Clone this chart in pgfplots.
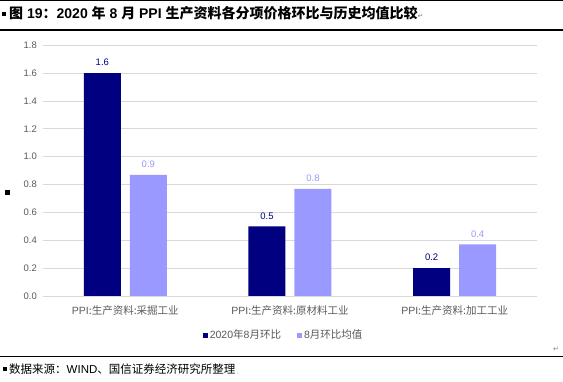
\documentclass[border=0pt]{standalone}
\usepackage{fontspec}
\setmainfont{Liberation Sans}
\newfontfamily\cjk{Noto Sans CJK SC}
\newfontfamily\sym{DejaVu Sans}
\usepackage{pgfplots}
\pgfplotsset{compat=1.18}
\definecolor{navy}{RGB}{0,0,128}
\definecolor{lav}{RGB}{153,153,255}
\definecolor{tickc}{RGB}{89,89,89}
\definecolor{gridc}{RGB}{217,217,217}
\begin{document}
\begin{tikzpicture}[x=1pt,y=1pt]
\path[use as bounding box] (0,0) rectangle (563,382);
\draw[line width=0.8pt] (0,381.4) -- (563,381.4);
% title
\fill (2,366) rectangle (6,370);
\node[anchor=west,inner sep=0] at (9,368.5) {\fontsize{14}{16}\selectfont\bfseries {\cjk\bfseries 图} 19{\cjk\bfseries ：}2020 {\cjk\bfseries 年} 8 {\cjk\bfseries 月} PPI {\cjk\bfseries 生产资料各分项价格环比与历史均值比较}{\sym\fontsize{7}{8}\selectfont\mdseries\color{gray}↵}};
\draw[line width=1.4pt] (0,352) -- (563,352);
% stray marker
\fill (5,187) rectangle (10,192);
% bottom
\draw[line width=1pt] (0,25) -- (563,25);
\node[anchor=center,inner sep=0] at (556,33) {\sym\fontsize{7}{8}\selectfont\color{gray}↵};
\fill (3,11) rectangle (7,15);
\node[anchor=west,inner sep=0] at (9,13) {\fontsize{11.5}{13}\selectfont{\cjk 数据来源：}WIND{\cjk 、国信证券经济研究所整理}\,\raisebox{-1pt}{\tiny.}};
\coordinate (orig) at (125.33,86);
\begin{axis}[
  at={(orig)}, anchor=origin, scale only axis,
  width=494pt, height=250.7pt,
  xmin=-0.5, xmax=2.5, ymin=0, ymax=1.8,
  ybar=9pt, bar width=37pt,
  ytick={0,0.2,0.4,0.6,0.8,1.0,1.2,1.4,1.6,1.8},
  xtick={0,1,2},
  xticklabels={PPI{\cjk :生产资料:采掘工业},PPI{\cjk :生产资料:原材料工业},PPI{\cjk :生产资料:加工工业}},
  ymajorgrids, grid style={gridc, line width=0.9pt},
  axis line style={draw=none},
  major tick length=0,
  /pgf/number format/assume math mode=true,
  yticklabel style={font=\fontsize{9.5}{11}\selectfont, color=tickc, inner sep=0, xshift=-6pt,
    /pgf/number format/.cd, fixed, fixed zerofill, precision=1},
  xticklabel style={font=\fontsize{10.5}{12}\selectfont, color=tickc, inner sep=0, yshift=-9pt},
  nodes near coords={\pgfmathprintnumber[fixed,fixed zerofill,precision=1]{\pgfplotspointmeta}},
  every node near coord/.append style={font=\fontsize{9.5}{11}\selectfont, inner sep=0, anchor=south, yshift=7pt},
  legend style={at={(0.487,-0.156)}, anchor=center, draw=none, font=\fontsize{10.5}{12}\selectfont, text=tickc,
    legend columns=2, /tikz/every even column/.append style={column sep=14pt}},
  legend image code/.code={\fill[#1] (0pt,-2.5pt) rectangle (5pt,2.5pt);},
]
\addplot[fill=navy, draw=none, every node near coord/.append style={text=navy}] coordinates {(0,1.6) (1,0.5) (2,0.2)};
\addplot[fill=lav, draw=none, every node near coord/.append style={text=lav}] coordinates {(0,0.87) (1,0.77) (2,0.37)};
\legend{2020{\cjk 年}8{\cjk 月环比},8{\cjk 月环比均值}}
\end{axis}
\end{tikzpicture}
\end{document}
